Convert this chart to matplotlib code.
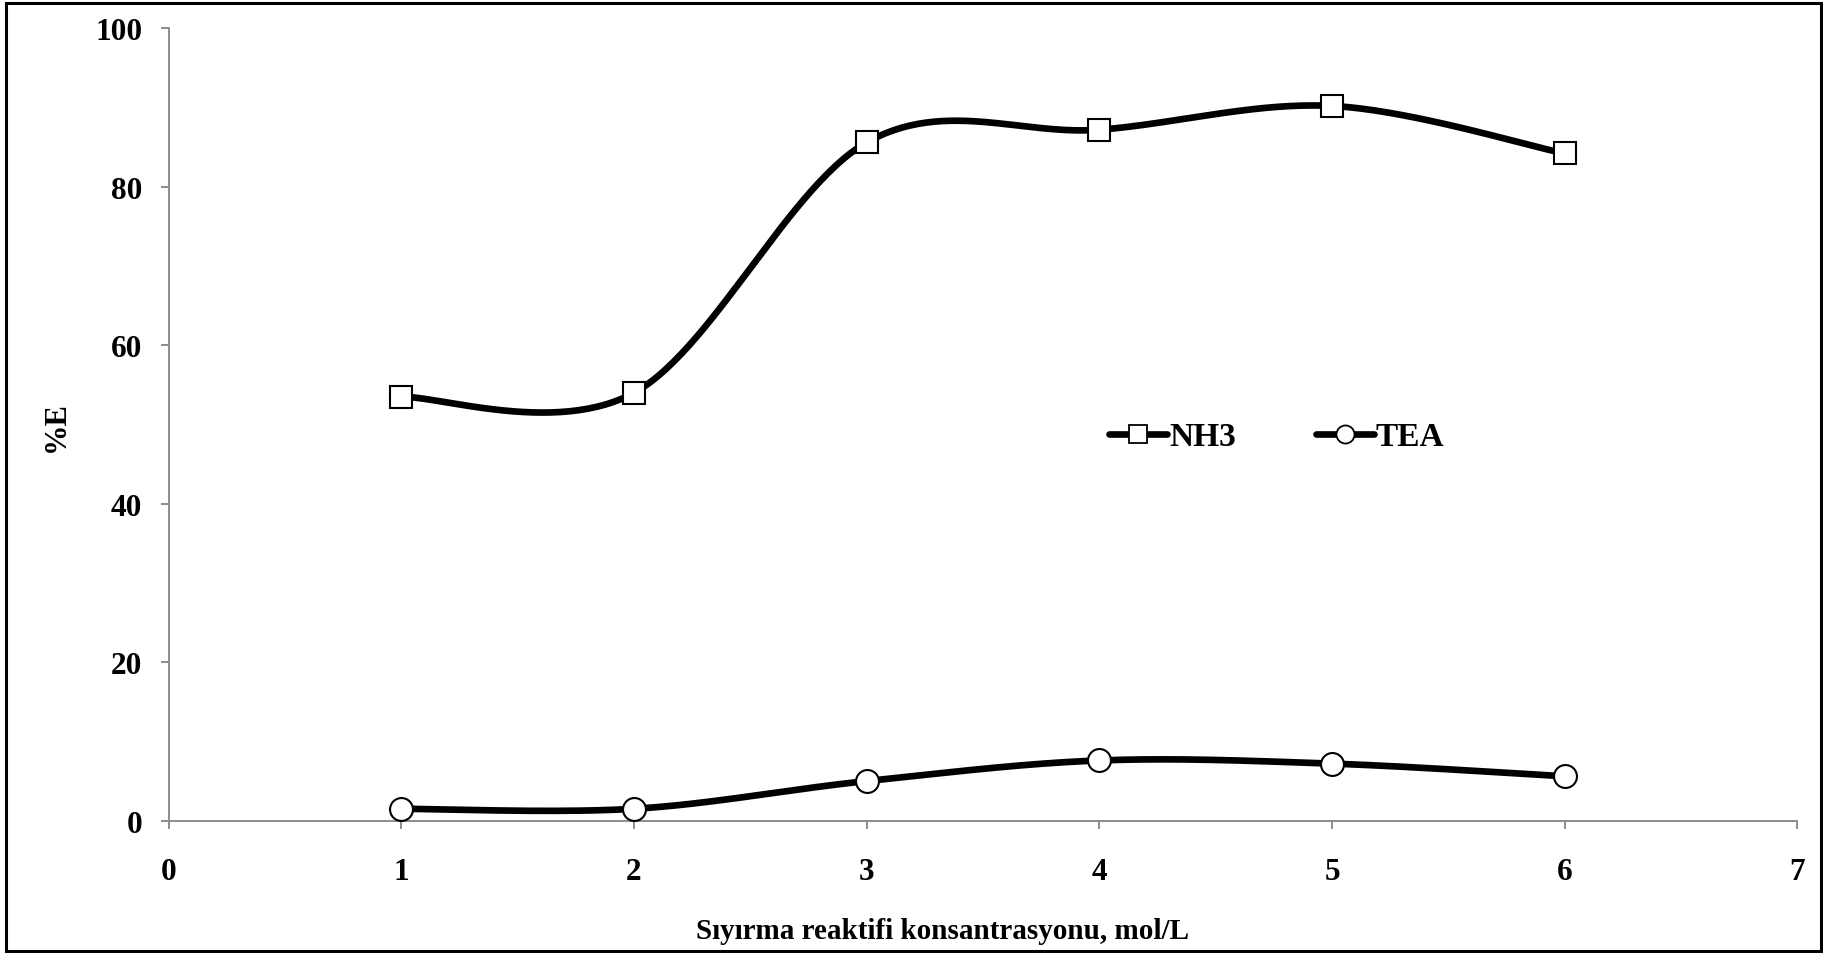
import numpy as np
import matplotlib
matplotlib.use("Agg")
import matplotlib.pyplot as plt
from matplotlib.patches import Rectangle

plt.rcParams['font.family'] = ['Liberation Serif', 'DejaVu Serif']
plt.rcParams['font.weight'] = 'bold'

# Stripping reagent concentration (mol/L) and extraction percentages
concentration = [1, 2, 3, 4, 5, 6]
nh3_E = [53.5, 54.0, 85.6, 87.2, 90.2, 84.2]
tea_E = [1.5, 1.5, 5.0, 7.6, 7.2, 5.6]
x_ticks = [0, 1, 2, 3, 4, 5, 6, 7]
y_ticks = [0, 20, 40, 60, 80, 100]


def smooth_curve(xs, ys, n=60):
    """Piecewise cubic Bezier through the points (Catmull-Rom style tangents)."""
    p = np.column_stack([xs, ys]).astype(float)
    pts = np.vstack([p[0], p, p[-1]])
    out = []
    t = np.linspace(0, 1, n)[:, None]
    for i in range(1, len(pts) - 2):
        p0, p1, p2, p3 = pts[i - 1], pts[i], pts[i + 1], pts[i + 2]
        c1 = p1 + (p2 - p0) / 6.0
        c2 = p2 - (p3 - p1) / 6.0
        seg = ((1 - t) ** 3) * p1 + 3 * ((1 - t) ** 2) * t * c1 + 3 * (1 - t) * t ** 2 * c2 + t ** 3 * p2
        out.append(seg if i == 1 else seg[1:])
    c = np.vstack(out)
    return c[:, 0], c[:, 1]


fig = plt.figure(figsize=(18.23, 9.54), dpi=100)
ax = fig.add_axes([0.0925, 0.1387, 0.8935, 0.8306])

fs = 22.5
lw = 4.8
grey = '#8c8c8c'

for ys, mk, lab in [(nh3_E, 's', 'NH3'), (tea_E, 'o', 'TEA')]:
    sx, sy = smooth_curve(concentration, ys)
    ax.plot(sx, sy, color='black', lw=lw, solid_capstyle='round', zorder=3)
    ax.plot(concentration, ys, linestyle='none', marker=mk, ms=16.5,
            mfc='white', mec='black', mew=1.5, zorder=4, clip_on=False)
    # legend proxy
    ax.plot([], [], color='black', lw=lw, solid_capstyle='round', marker=mk,
            ms=13, mfc='white', mec='black', mew=1.3, label=lab)

ax.set_xlim(0, 7)
ax.set_ylim(0, 100)
ax.set_xticks(x_ticks)
ax.set_yticks(y_ticks)
for s in ['top', 'right']:
    ax.spines[s].set_visible(False)
for s in ['left', 'bottom']:
    ax.spines[s].set_color(grey)
    ax.spines[s].set_linewidth(1.4)
ax.tick_params(axis='both', colors=grey, length=6, width=1.4, labelcolor='black',
               labelsize=fs)
ax.tick_params(axis='x', pad=20)
ax.tick_params(axis='y', pad=13)
for t in ax.get_xticklabels() + ax.get_yticklabels():
    t.set_fontweight('bold')

fig.text(943 / 1823, 1 - 932 / 954, 'Sıyırma reaktifi konsantrasyonu, mol/L',
         ha='center', va='center', fontsize=21, fontweight='bold')
fig.text(56 / 1823, 1 - 427 / 954, '%E', ha='center', va='center',
         rotation=90, fontsize=22, fontweight='bold')

leg = fig.legend(loc='center left', bbox_to_anchor=(1109 / 1823, 1 - 438 / 954),
                 bbox_transform=fig.transFigure, ncol=2, frameon=False,
                 borderpad=0, borderaxespad=0, handlelength=1.75,
                 handletextpad=0.05, columnspacing=2.4,
                 prop={'size': 24, 'weight': 'bold'})

# outer frame around the whole chart
fig.patches.append(Rectangle((0.0035, 0.002), 0.9955, 0.994, transform=fig.transFigure,
                             fill=False, edgecolor='black', linewidth=2.2))

fig.savefig('out.png', dpi=100)
